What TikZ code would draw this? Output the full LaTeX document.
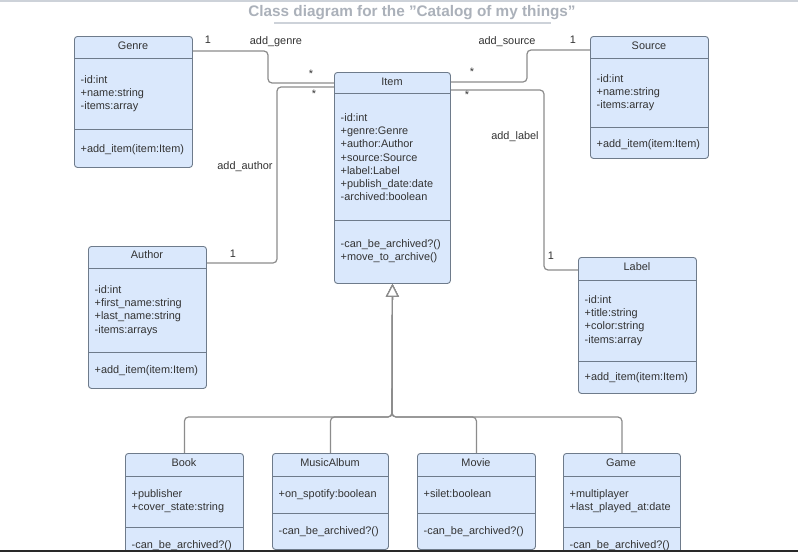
\documentclass[tikz,border=0pt]{standalone}
\usepackage{fontspec}
\setmainfont{Liberation Sans}
\usetikzlibrary{arrows.meta}
\definecolor{clsfill}{HTML}{DAE8FC}
\definecolor{clsline}{HTML}{6E7B8B}
\definecolor{wire}{HTML}{8C8C8C}
\definecolor{ink}{HTML}{333333}
\definecolor{titlegray}{HTML}{ABB1BA}
\definecolor{rulegray}{HTML}{CDD2D9}

\begin{document}
\begin{tikzpicture}[x=1pt,y=-1pt]
	\tikzstyle{cls}=[draw=clsline,fill=clsfill,line width=0.9pt,rounded corners=3pt,anchor=north west,inner sep=0]
	\tikzstyle{divider}=[draw=clsline,line width=0.9pt]
	\tikzstyle{head}=[text=ink,font=\fontsize{10.9}{13.3}\selectfont,inner sep=0]
	\tikzstyle{members}=[head,align=left,anchor=north west]
	\tikzstyle{mult}=[head]
	\tikzstyle{assoc}=[draw=wire,line width=1.2pt,rounded corners=4pt]
	\tikzstyle{inherit}=[assoc,-{Triangle[length=13pt,width=13pt,fill=white]}]
	
	\useasboundingbox (0,0) rectangle (798,552);
	\fill[white] (0,0) rectangle (798,552);
	\draw[rulegray,line width=1.5pt] (0,0.75) -- (798,0.75);
	
	% title
	\node[text=titlegray,inner sep=0,font=\bfseries\fontsize{15.3}{18}\selectfont] (title) at (412,13) {Class diagram for the "Catalog of my things"};
	\draw[rulegray,line width=1.5pt] (274,23) -- (551,23);
	
	\begin{scope}
	\clip (0,0) rectangle (798,549.5);
	
	% Genre
	\node[cls,minimum width=118pt,minimum height=131pt] (genre) at (74,36) {};
	\node[head] (genre-name) at (133,46) {Genre};
	\draw[divider] (74,58) -- (192,58);
	\node[members] (genre-attr) at (80.5,75) {-id:int\\+name:string\\-items:array};
	\draw[divider] (74,129) -- (192,129);
	\node[members] (genre-ops) at (80.5,144) {+add\_item(item:Item)};
	
	% Source
	\node[cls,minimum width=118pt,minimum height=122pt] (source) at (590,36) {};
	\node[head] (source-name) at (649,46) {Source};
	\draw[divider] (590,58) -- (708,58);
	\node[members] (source-attr) at (596.5,74) {-id:int\\+name:string\\-items:array};
	\draw[divider] (590,127) -- (708,127);
	\node[members] (source-ops) at (596.5,139) {+add\_item(item:Item)};
	
	% Item
	\node[cls,minimum width=116pt,minimum height=211pt] (item) at (334,72) {};
	\node[head] (item-name) at (392,82) {Item};
	\draw[divider] (334,93) -- (450,93);
	\node[members] (item-attr) at (340.5,113) {-id:int\\+genre:Genre\\+author:Author\\+source:Source\\+label:Label\\+publish\_date:date\\-archived:boolean};
	\draw[divider] (334,220) -- (450,220);
	\node[members] (item-ops) at (340.5,239) {-can\_be\_archived?()\\+move\_to\_archive()};
	
	% Author
	\node[cls,minimum width=118pt,minimum height=142pt] (author) at (88,246) {};
	\node[head] (author-name) at (147,255) {Author};
	\draw[divider] (88,268) -- (206,268);
	\node[members] (author-attr) at (94.5,285) {-id:int\\+first\_name:string\\+last\_name:string\\-items:arrays};
	\draw[divider] (88,352) -- (206,352);
	\node[members] (author-ops) at (94.5,365) {+add\_item(item:Item)};
	
	% Label
	\node[cls,minimum width=118pt,minimum height=136pt] (label) at (578,257) {};
	\node[head] (label-name) at (637,267) {Label};
	\draw[divider] (578,280) -- (696,280);
	\node[members] (label-attr) at (584.5,295) {-id:int\\+title:string\\+color:string\\-items:array};
	\draw[divider] (578,361) -- (696,361);
	\node[members] (label-ops) at (584.5,372) {+add\_item(item:Item)};
	
	% Book
	\node[cls,minimum width=118pt,minimum height=112pt] (book) at (125,453) {};
	\node[head] (book-name) at (184,463) {Book};
	\draw[divider] (125,476) -- (243,476);
	\node[members] (book-attr) at (131.5,489) {+publisher\\+cover\_state:string};
	\draw[divider] (125,527) -- (243,527);
	\node[members] (book-ops) at (131.5,540) {-can\_be\_archived?()};
	
	% MusicAlbum
	\node[cls,minimum width=116pt,minimum height=96pt] (album) at (272,453) {};
	\node[head] (album-name) at (330,463) {MusicAlbum};
	\draw[divider] (272,476) -- (388,476);
	\node[members] (album-attr) at (278.5,489) {+on\_spotify:boolean};
	\draw[divider] (272,513) -- (388,513);
	\node[members] (album-ops) at (278.5,526) {-can\_be\_archived?()};
	
	% Movie
	\node[cls,minimum width=118pt,minimum height=96pt] (movie) at (417,453) {};
	\node[head] (movie-name) at (476,463) {Movie};
	\draw[divider] (417,476) -- (535,476);
	\node[members] (movie-attr) at (423.5,489) {+silet:boolean};
	\draw[divider] (417,513) -- (535,513);
	\node[members] (movie-ops) at (423.5,526) {-can\_be\_archived?()};
	
	% Game
	\node[cls,minimum width=117pt,minimum height=112pt] (game) at (563,453) {};
	\node[head] (game-name) at (621,463) {Game};
	\draw[divider] (563,476) -- (680,476);
	\node[members] (game-attr) at (569.5,489) {+multiplayer\\+last\_played\_at:date};
	\draw[divider] (563,527) -- (680,527);
	\node[members] (game-ops) at (569.5,540) {-can\_be\_archived?()};
	
	% associations
	\draw[assoc] ([yshift=-15pt]genre.north east) -| (268,83) -- ([yshift=-11pt]item.north west);
	\draw[assoc] ([yshift=-17pt]author.north east) -| (277,87) -- ([yshift=-15pt]item.north west);
	\draw[assoc] ([yshift=-14pt]source.north west) -| (527,82) -- ([yshift=-10pt]item.north east);
	\draw[assoc] ([yshift=-13pt]label.north west) -| (544,90) -- ([yshift=-18pt]item.north east);
	
	\node[mult] (m-genre) at (208,40) {1};
	\node[mult] (n-genre) at (276,42) {add\_genre};
	\node[mult] (s-genre) at (311,74) {*};
	\node[mult] (m-author) at (233,254) {1};
	\node[mult] (n-author) at (245,167) {add\_author};
	\node[mult] (s-author) at (314,94) {*};
	\node[mult] (m-source) at (573,40) {1};
	\node[mult] (n-source) at (507,42) {add\_source};
	\node[mult] (s-source) at (472,72) {*};
	\node[mult] (m-label) at (551,256) {1};
	\node[mult] (n-label) at (515,137) {add\_label};
	\node[mult] (s-label) at (467,95) {*};
	
	% inheritance
	\draw[inherit] (book.north) |- (392,417) -- (item.south);
	\draw[inherit] (album.north) |- (392,417) -- (item.south);
	\draw[inherit] (movie.north) |- (392,417) -- (item.south);
	\draw[inherit] (game.north) |- (392,417) -- (item.south);
	\end{scope}
	
	\draw[ink!80!black,line width=1.6pt] (0,550.7) -- (798,550.7);
\end{tikzpicture}
\end{document}
